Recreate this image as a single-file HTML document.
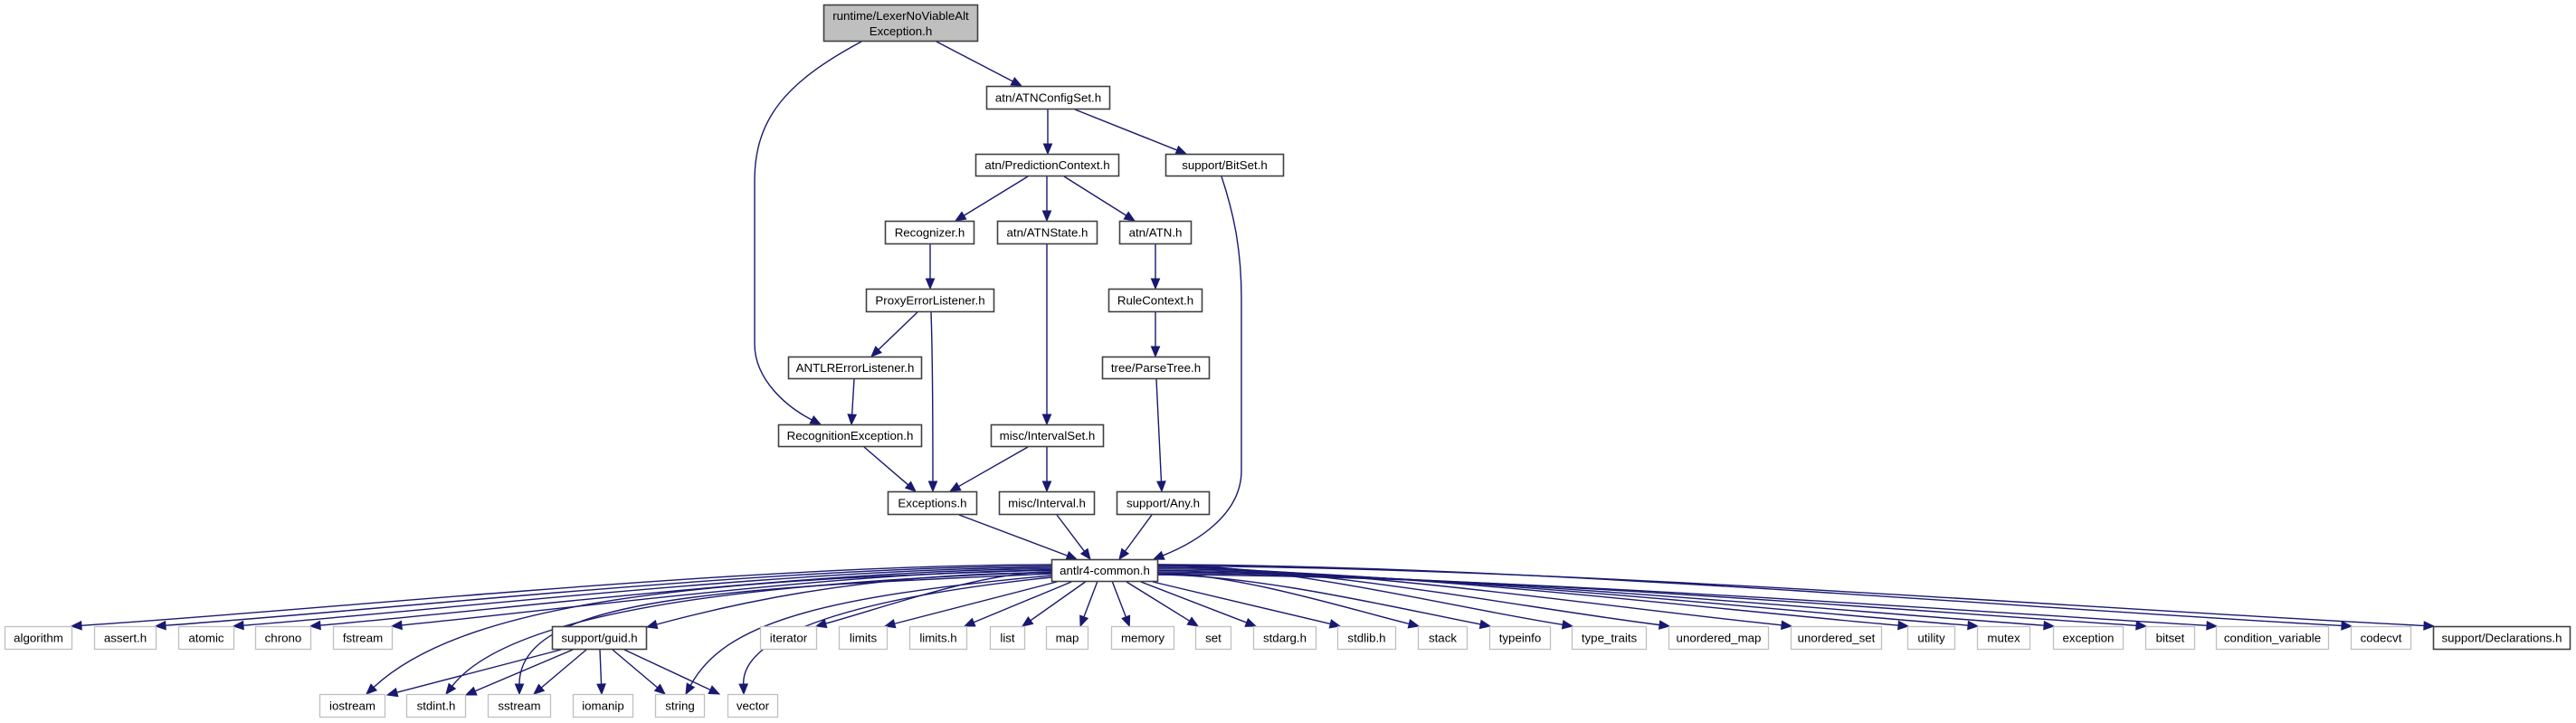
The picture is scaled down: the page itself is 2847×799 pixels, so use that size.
<!DOCTYPE html>
<html><head><meta charset="utf-8">
<style>
html,body{margin:0;padding:0;background:#fff;}
svg{display:block;}
text{font-family:"Liberation Sans",Arial,sans-serif;font-size:13.3px;fill:#000;}
</style></head>
<body>
<svg id="g" width="2847" height="799" viewBox="0 0 2847 799" xmlns="http://www.w3.org/2000/svg"></svg>
<script>
var svg=document.getElementById('g');
var NS='http://www.w3.org/2000/svg';
var C='#191970';
function el(t,a,txt){var e=document.createElementNS(NS,t);for(var k in a)e.setAttribute(k,a[k]);if(txt!==undefined)e.textContent=txt;svg.appendChild(e);return e;}
var R1=[692,718],R2=[767,793];
var nodes=[
['runtime/LexerNoViableAlt|Exception.h',910,1081,5,46,2],
['atn/ATNConfigSet.h',1090,1227,95,121,0],
['atn/PredictionContext.h',1078,1237,170,195,0],
['support/BitSet.h',1288,1419,170,195,0],
['Recognizer.h',978,1077,244,270,0],
['atn/ATNState.h',1102,1213,244,270,0],
['atn/ATN.h',1237,1317,244,270,0],
['ProxyErrorListener.h',957,1099,319,345,0],
['RuleContext.h',1225,1329,319,345,0],
['ANTLRErrorListener.h',871,1019,394,419,0],
['tree/ParseTree.h',1218,1337,394,419,0],
['RecognitionException.h',860,1019,469,494,0],
['misc/IntervalSet.h',1095,1220,469,494,0],
['Exceptions.h',981,1080,543,569,0],
['misc/Interval.h',1104,1210,543,569,0],
['support/Any.h',1234,1337,543,569,0],
['antlr4-common.h',1162,1280,618,643,0]
];
var row1=[['algorithm',5,80],['assert.h',104,173],['atomic',197,259],['chrono',282,344],['fstream',368,434],
['support/guid.h',610,715,0],['iterator',840,903],['limits',927,981],['limits.h',1005,1069],['list',1094,1133],
['map',1156,1203],['memory',1228,1298],['set',1321,1361],['stdarg.h',1385,1455],['stdlib.h',1478,1543],
['stack',1567,1622],['typeinfo',1646,1714],['type_traits',1737,1820],['unordered_map',1844,1955],
['unordered_set',1979,2080],['utility',2108,2161],['mutex',2185,2244],['exception',2269,2347],['bitset',2371,2426],
['condition_variable',2449,2574],['codecvt',2598,2665],['support/Declarations.h',2689,2841,0]];
var row2=[['iostream',353,426],['stdint.h',449,515],['sstream',539,609],['iomanip',633,700],['string',724,779],['vector',804,860]];

function arrowPath(p){
  var n=p.length,tip=p[n-1],prev=p[n-2];
  if(Math.abs(prev[0]-tip[0])<0.01&&Math.abs(prev[1]-tip[1])<0.01)prev=p[n-3];
  var dx=tip[0]-prev[0],dy=tip[1]-prev[1],L=Math.sqrt(dx*dx+dy*dy);dx/=L;dy/=L;
  var al=11,aw=4.6;
  var bx=tip[0]-dx*al,by=tip[1]-dy*al;
  var q=p.slice();q[n-1]=[bx,by];
  var d='M'+q[0][0]+','+q[0][1];
  if(n==2)d+=' L'+bx+','+by;
  else {for(var i=1;i<n;i+=3){d+=' C'+q[i][0]+','+q[i][1]+' '+q[i+1][0]+','+q[i+1][1]+' '+q[i+2][0]+','+q[i+2][1];}}
  el('path',{d:d,fill:'none',stroke:C,'stroke-width':1.4});
  el('polygon',{points:tip[0]+','+tip[1]+' '+(bx-dy*aw)+','+(by+dx*aw)+' '+(bx+dy*aw)+','+(by-dx*aw),fill:C,stroke:C,'stroke-width':1});
}
function E(){arrowPath(Array.prototype.slice.call(arguments));}

E([1035,46],[1129,95]);
E([952,46],[870,90],[834,130],[834,200],[834,260],[834,330],[834,380],[834,420],[870,450],[907,469]);
E([1158,121],[1158,170]);
E([1188,121],[1311,170]);
E([1350,195],[1365,240],[1372,280],[1372,330],[1372,400],[1372,460],[1372,520],[1372,570],[1320,600],[1275,618]);
E([1136,195],[1056,244]);
E([1157,195],[1157,244]);
E([1176,195],[1254,244]);
E([1028,270],[1028,319]);
E([1157,270],[1157,469]);
E([1277,270],[1277,319]);
E([1277,345],[1277,394]);
E([1278,419],[1284,543]);
E([1014,345],[963,394]);
E([1029,345],[1031,400],[1031,480],[1031,543]);
E([944,419],[941,469]);
E([955,494],[1012,543]);
E([1136,494],[1050,543]);
E([1157,494],[1157,543]);
E([1060,569],[1190,618]);
E([1168,569],[1205,618]);
E([1273,569],[1237,618]);

var cx=1221,i=0;
row1.forEach(function(r){
  var x1=r[1],x2=r[2],tc=(x1+x2)/2,w=x2-x1;
  var diff=tc-cx;
  if(r[0]=='support/guid.h'){E([1162,633],[950,633],[800,670],[715,693]);return;}
  if(Math.abs(diff)<=320){
    var sx=cx+diff*0.2; sx=Math.max(1168,Math.min(1274,sx));
    var off=(cx-tc)*0.35; off=Math.max(-(w/2-3),Math.min(w/2-3,off));
    E([sx,643],[tc+off,692]);
  } else if(diff<0){
    var y0=624+(i++%8)*1.6;
    E([1162,y0],[1162-(1162-x2)*0.3,y0],[x2+(1162-x2)*0.28,672],[x2-1,692]);
  } else {
    var y0=624+(i++%8)*1.6;
    E([1280,y0],[1280+(x1-1280)*0.3,y0],[x1-(x1-1280)*0.28,672],[x1+1,692]);
  }
});
E([1162,630],[800,640],[520,660],[405,767]);
E([1162,632],[800,645],[560,680],[493,767]);
E([1162,634],[800,650],[574,660],[574,767]);
E([1162,636],[900,660],[800,690],[758,767]);
E([1162,638],[950,660],[820,700],[822,767]);
E([620,718],[428,768]);
E([633,718],[515,768]);
E([648,718],[590,767]);
E([663,718],[665,767]);
E([677,718],[735,767]);
E([690,718],[795,767]);

function box(name,x1,x2,y1,y2,t){
  var fill=t==2?'#bfbfbf':'#fff',stroke=t==1?'#bfbfbf':'#404040';
  el('rect',{x:x1+0.5,y:y1+0.5,width:x2-x1-1,height:y2-y1-1,fill:fill,stroke:stroke,'stroke-width':t==1?1.3:1.6});
  var parts=name.split('|'),cxx=(x1+x2)/2;
  if(parts.length==1) el('text',{x:cxx,y:(y1+y2)/2+4.7,'text-anchor':'middle'},name);
  else {el('text',{x:cxx,y:y1+17,'text-anchor':'middle'},parts[0]);el('text',{x:cxx,y:y1+34,'text-anchor':'middle'},parts[1]);}
}
nodes.forEach(function(n){box(n[0],n[1],n[2],n[3],n[4],n[5]);});
row1.forEach(function(r){box(r[0],r[1],r[2],R1[0],R1[1],r.length>3?0:1);});
row2.forEach(function(r){box(r[0],r[1],r[2],R2[0],R2[1],1);});
</script>
</body></html>
